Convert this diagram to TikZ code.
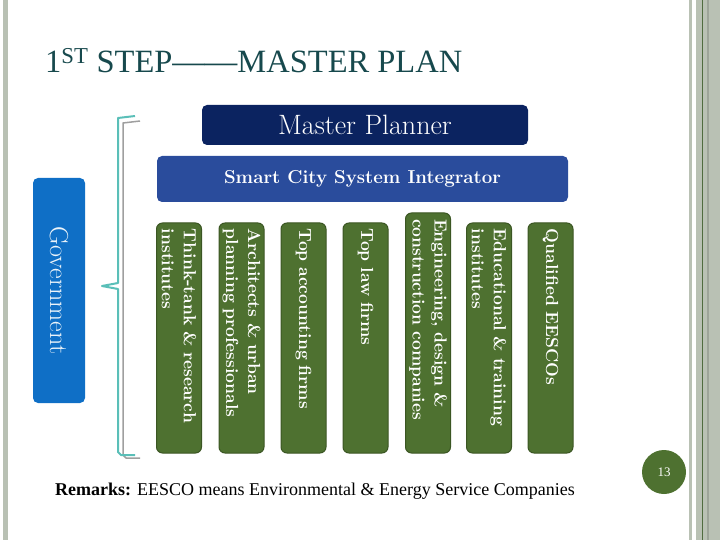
\documentclass[tikz,border=0pt]{standalone}
\usepackage{fontspec}
\newfontfamily\timesfont{Liberation Serif}
\definecolor{titleteal}{HTML}{17494D}
\definecolor{planner}{HTML}{0B2360}
\definecolor{integrator}{HTML}{2A4C9C}
\definecolor{govblue}{HTML}{0F6FC6}
\definecolor{firmgreen}{HTML}{4E7130}
\definecolor{firmedge}{HTML}{3B5623}
\definecolor{framegray}{HTML}{B9C1B4}
\definecolor{framedark}{HTML}{4F6B3F}
\definecolor{bracketteal}{HTML}{5ABFB8}
\tikzstyle{topbox} = [rectangle, rounded corners=5pt, text=white, text centered, inner sep=0pt]
\tikzstyle{firm} = [rectangle, rounded corners=6pt, rotate=-90, fill=firmgreen, draw=firmedge, line width=1pt, text=white, minimum height=45pt, inner xsep=6pt, inner ysep=2pt, align=left, text width=218pt, font=\bfseries\fontsize{17.5}{22}\selectfont\addfontfeatures{LetterSpace=6}]
\tikzstyle{bracket} = [line width=2pt, bracketteal, line join=round]

\begin{document}
\begin{tikzpicture}[x=1pt, y=-1pt]
    \useasboundingbox (0,0) rectangle (720,540);
    % slide frame
    \fill [framegray] (3,0) rectangle (8,540);
    \fill [framegray] (689,0) rectangle (692,540);
    \fill [framegray] (696,0) rectangle (720,540);
    \fill [framegray!85!black] (707,0) rectangle (709,540);
    \draw [framedark, line width=1pt] (702.5,0) -- (702.5,540);
    \node [anchor=base west, text=titleteal, font=\timesfont\fontsize{32.5}{32}\selectfont, inner sep=0pt] (title) at (45,73) {1\textsuperscript{ST} STEP——MASTER PLAN};
    \node [topbox, fill=planner, minimum width=326pt, minimum height=40pt, font=\fontsize{28}{28}\selectfont] (planner) at (365,125) {Master Planner};
    \node [topbox, fill=integrator, minimum width=411pt, minimum height=46pt, font=\bfseries\fontsize{18.7}{18}\selectfont] (integrator) at (362.5,179) {Smart City System Integrator};
    \node [topbox, rotate=-90, fill=govblue, minimum width=225pt, minimum height=52pt, text=white!92!govblue, font=\fontsize{26}{26}\selectfont\addfontfeatures{LetterSpace=3}] (gov) at (59,290.5) {Government};
    % the firms
    \node [firm] (think) at (179,338) {Think-tank \& research\\institutes};
    \node [firm] (arch) at (241.5,338) {Architects \& urban\\planning professionals};
    \node [firm] (account) at (303.5,338) {Top accounting firms};
    \node [firm] (law) at (365.5,338) {Top law firms};
    \node [firm, text width=228pt] (eng) at (428,333) {Engineering, design \&\\construction companies};
    \node [firm] (edu) at (489,338) {Educational \& training\\institutes};
    \node [firm] (esco) at (550.5,338) {Qualified EESCOs};
    % bracket
    \draw [line width=1.5pt, gray!75, line join=round] (140,121) -- (123,123) -- (123,455) -- (126,458) -- (140,458);
    \draw [bracket] (135,116) -- (118,118) -- (118,283) -- (102,286) -- (118,289) -- (118,452) -- (121,455) -- (135,455);
    \node [anchor=base west, font=\timesfont\fontsize{18}{18}\selectfont, inner sep=0pt] (remarks) at (55,495) {\textbf{Remarks:} EESCO means Environmental \& Energy Service Companies};
    \node [circle, fill=firmgreen, minimum size=44pt, inner sep=0pt, text=white, font=\timesfont\fontsize{13}{13}\selectfont] (page) at (664,472) {13};
\end{tikzpicture}
\end{document}
